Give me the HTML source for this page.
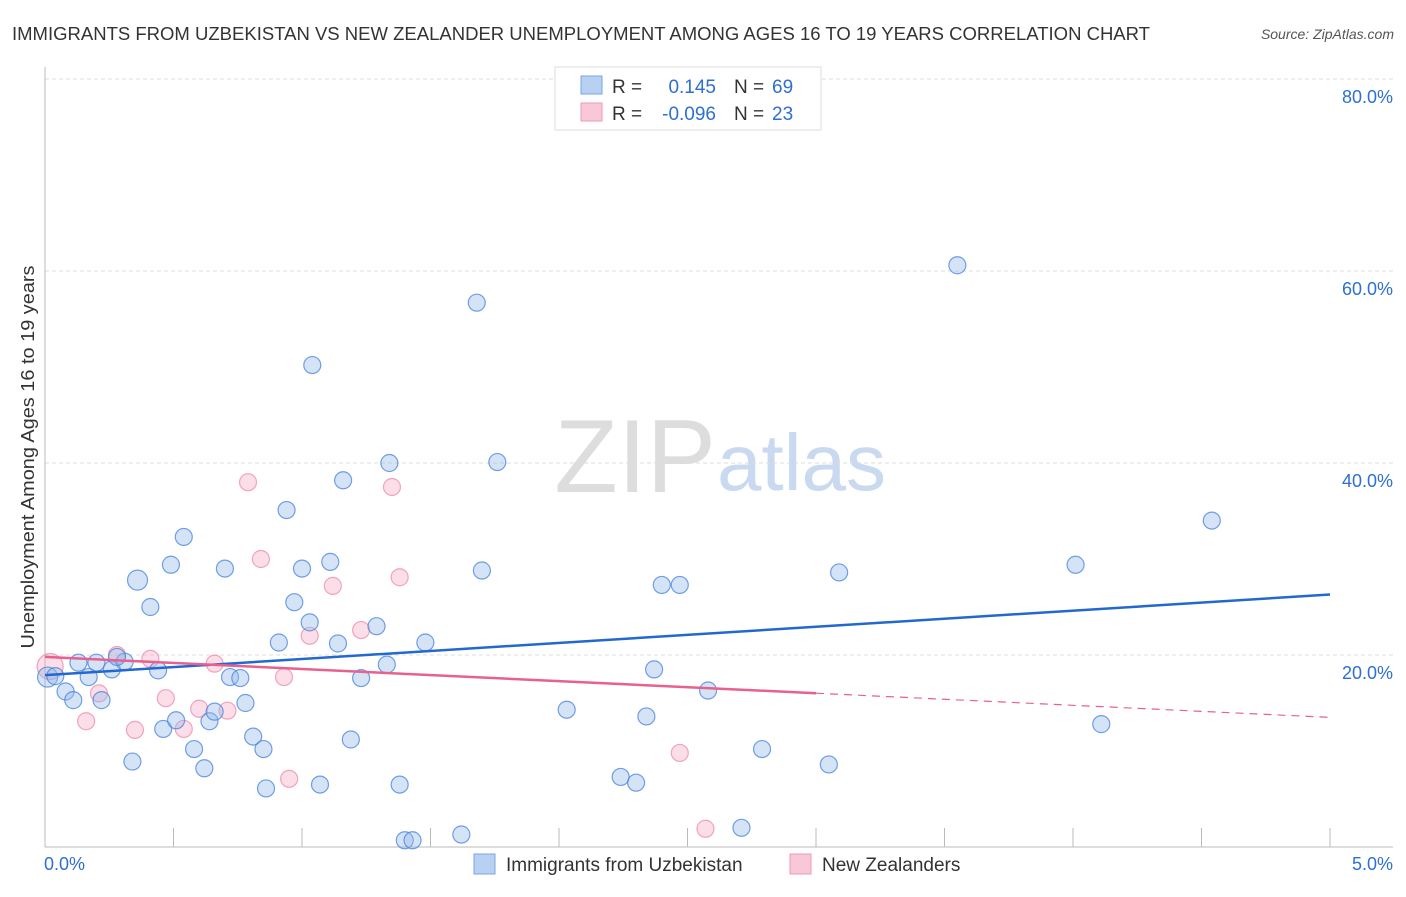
<!DOCTYPE html>
<html><head><meta charset="utf-8"><style>
body{margin:0;background:#fff;font-family:"Liberation Sans",sans-serif;}
svg text{font-family:"Liberation Sans",sans-serif;}
</style></head><body>
<svg id="c" width="1406" height="892">
<text x="12" y="40" font-size="18" fill="#333" textLength="1138" lengthAdjust="spacingAndGlyphs">IMMIGRANTS FROM UZBEKISTAN VS NEW ZEALANDER UNEMPLOYMENT AMONG AGES 16 TO 19 YEARS CORRELATION CHART</text>
<text x="1394" y="39" font-size="14" fill="#555" font-style="italic" text-anchor="end">Source: ZipAtlas.com</text>
<text x="716" y="492" font-size="104" fill="#ddd" text-anchor="end" font-family="Liberation Serif">ZIP</text>
<text x="717" y="490" font-size="80" fill="#c9d9f0">atlas</text>
<g id="grid"></g>
<g id="pts"></g>
<g id="lines"></g>
<text transform="translate(34,457) rotate(-90)" font-size="18" fill="#333" text-anchor="middle" textLength="383" lengthAdjust="spacingAndGlyphs">Unemployment Among Ages 16 to 19 years</text>
<g>
<rect x="555" y="67" width="266" height="63" fill="#fff" stroke="#ddd"/>
<rect x="581" y="76" width="21" height="18" fill="#b8d0f2" stroke="#7aa6e6"/>
<rect x="581" y="103" width="21" height="18" fill="#f8c8d6" stroke="#ee9ab4"/>
<text x="612" y="93" font-size="19" fill="#333">R =</text><text x="716" y="93" font-size="19" fill="#2d6fd2" text-anchor="end">0.145</text>
<text x="734" y="93" font-size="19" fill="#333">N =</text><text x="772" y="93" font-size="19" fill="#2d6fd2">69</text>
<text x="612" y="120" font-size="19" fill="#333">R =</text><text x="716" y="120" font-size="19" fill="#2d6fd2" text-anchor="end">-0.096</text>
<text x="734" y="120" font-size="19" fill="#333">N =</text><text x="772" y="120" font-size="19" fill="#2d6fd2">23</text>
</g>
<g>
<rect x="474" y="854" width="21" height="20" fill="#b8d0f2" stroke="#7aa6e6"/>
<text x="506" y="871" font-size="19" fill="#333">Immigrants from Uzbekistan</text>
<rect x="790" y="854" width="21" height="20" fill="#f8c8d6" stroke="#ee9ab4"/>
<text x="822" y="871" font-size="19" fill="#333">New Zealanders</text>
</g>
</svg>
<script>
const blueX=[0.01,0.04,0.08,0.11,0.13,0.17,0.20,0.22,0.26,0.31,0.28,0.34,0.36,0.41,0.44,0.46,0.49,0.51,0.54,0.58,0.62,0.64,0.66,0.70,0.72,0.76,0.78,0.81,0.85,0.86,0.91,0.94,0.97,1.00,1.03,1.04,1.07,1.11,1.14,1.16,1.19,1.23,1.29,1.33,1.34,1.38,1.40,1.43,1.48,1.62,1.68,1.70,1.76,2.03,2.24,2.30,2.34,2.37,2.40,2.47,2.58,2.71,2.79,3.05,3.09,3.55,4.01,4.11,4.54];
const blueY=[17.7,17.8,16.2,15.3,19.2,17.7,19.2,15.3,18.5,19.3,19.8,8.9,27.8,25.0,18.4,12.3,29.4,13.2,32.3,10.2,8.2,13.1,14.1,29.0,17.7,17.6,15.0,11.5,10.2,6.1,21.3,35.1,25.5,29.0,23.4,50.2,6.5,29.7,21.2,38.2,11.2,17.6,23.0,19.0,40.0,6.5,0.7,0.7,21.3,1.3,56.7,28.8,40.1,14.3,7.3,6.7,13.6,18.5,27.3,27.3,16.3,2.0,10.2,8.6,28.6,60.6,29.4,12.8,34.0];
const pinkX=[0.02,0.28,0.21,0.16,0.35,0.41,0.47,0.54,0.60,0.66,0.71,0.79,0.84,0.93,0.95,1.03,1.12,1.23,1.35,1.38,2.47,2.57];
const pinkY=[18.8,20.0,16.0,13.1,12.2,19.6,15.5,12.3,14.4,19.1,14.2,38.0,30.0,17.7,7.1,22.0,27.2,22.6,37.5,28.1,9.8,1.9];
const yTicks=[20,40,60,80];
const xTicks=[0,0.5,1,1.5,2,2.5,3,3.5,4,4.5,5];
const blueFit=[17.9,26.3];
const pinkFit=[19.8,13.5];
const pinkSolidEnd=3.0;
const NS='http://www.w3.org/2000/svg';
const X=v=>45+v/5*1285, Y=v=>847-v*9.6;
function mk(t,a,p){const e=document.createElementNS(NS,t);for(const k in a)e.setAttribute(k,a[k]);p.appendChild(e);return e;}
const g=document.getElementById('grid');
yTicks.forEach(t=>{
 const l=mk('line',{x1:45,x2:1393,y1:Y(t),y2:Y(t),stroke:'#ddd','stroke-dasharray':'4,3'},g);
 
 
 const tx=mk('text',{x:1393,y:Y(t)+24,'font-size':18,fill:'#2d6fd2','text-anchor':'end'},g);tx.textContent=t.toFixed(1)+'%';
 
 
});
mk('line',{x1:45,x2:45,y1:67,y2:847,stroke:'#bbb'},g);
mk('line',{x1:45,x2:1393,y1:847,y2:847,stroke:'#bbb'},g);
xTicks.forEach(t=>{
 const l=mk('line',{x1:X(t),x2:X(t),y1:828,y2:847,stroke:'#bbb'},g);
 
 
});
[[0,'start'],[5,'end']].forEach(([t,a])=>{
 const tx=mk('text',{x:X(t)+(t==0?-1:63),y:870,'font-size':18,fill:'#2d6fd2','text-anchor':a},g);tx.textContent=t.toFixed(1)+'%';
 
 
});
const p=document.getElementById('pts');
pinkX.forEach((x,i)=>{
 const c=mk('circle',{cx:X(x),cy:Y(pinkY[i]),r:i==0?13:8.5,fill:'rgba(244,160,185,0.35)',stroke:'rgba(236,130,165,0.7)','stroke-width':1.2},p);
 
 
});
blueX.forEach((x,i)=>{
 const c=mk('circle',{cx:X(x),cy:Y(blueY[i]),r:(i==0||i==12)?10:8.5,fill:'rgba(150,185,235,0.4)',stroke:'rgba(70,130,220,0.75)','stroke-width':1.2},p);
 
 
});
const L=document.getElementById('lines');
const bl=mk('line',{x1:X(0),y1:Y(blueFit[0]),x2:X(5),y2:Y(blueFit[1]),stroke:'#2368d0','stroke-width':2.5},L);


const pm=pinkFit[0]+(pinkFit[1]-pinkFit[0])*pinkSolidEnd/5;
const pl=mk('line',{x1:X(0),y1:Y(pinkFit[0]),x2:X(pinkSolidEnd),y2:Y(pm),stroke:'#e8608e','stroke-width':2.5},L);


const pd=mk('line',{x1:X(pinkSolidEnd),y1:Y(pm),x2:X(5),y2:Y(pinkFit[1]),stroke:'#e8608e','stroke-width':1.2,'stroke-dasharray':'8,6'},L);


</script>
</body></html>
